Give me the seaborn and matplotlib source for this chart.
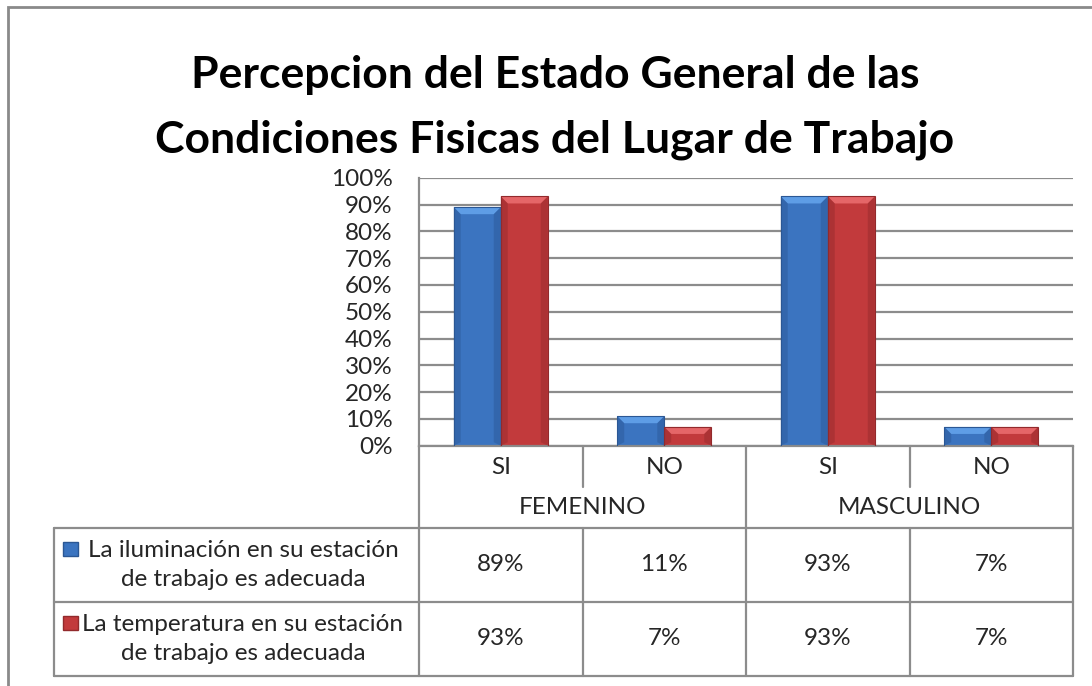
import matplotlib
matplotlib.use("Agg")
import matplotlib.pyplot as plt
import matplotlib.transforms as mtransforms
from matplotlib.patches import Polygon, Rectangle
from matplotlib.lines import Line2D
import pandas as pd
import seaborn as sns

# Data
generos = ["FEMENINO", "MASCULINO"]
respuestas = ["SI", "NO"]
series = ["La iluminación en su estación\nde trabajo es adecuada",
          "La temperatura en su estación\nde trabajo es adecuada"]
iluminacion = [0.89, 0.11, 0.93, 0.07]
temperatura = [0.93, 0.07, 0.93, 0.07]

colores = ["#3b74c0", "#c23a3c"]
claros = ["#5e9de6", "#e56668"]
oscuros = ["#2b5794", "#922a2c"]

sns.set_theme(style="white")
plt.rcParams["font.family"] = ["Lato", "DejaVu Sans"]

cats = [f"{g}-{r}" for g in generos for r in respuestas]
df = pd.DataFrame({
    "cat": cats * 2,
    "serie": [series[0]] * 4 + [series[1]] * 4,
    "valor": iluminacion + temperatura,
})

W, H = 1092, 686
fx = lambda px: px / W
fy = lambda py: 1 - py / H
fs = 17.5

fig = plt.figure(figsize=(W / 100, H / 100), dpi=100)
fig.patch.set_facecolor("white")

# outer chart border
fig.add_artist(Rectangle((fx(8), fy(700)), 1.2, fy(7) - fy(700), transform=fig.transFigure,
                         fill=False, edgecolor="#8a8a8a", lw=2))

ax_l, ax_r, ax_t, ax_b = 419, 1073, 177.7, 445.7
ax = fig.add_axes([fx(ax_l), fy(ax_b), (ax_r - ax_l) / W, (ax_b - ax_t) / H])

sns.barplot(data=df, x="cat", y="valor", hue="serie", order=cats, hue_order=series,
            palette=colores, saturation=1, width=0.575, legend=False, ax=ax,
            edgecolor="none", linewidth=0)

ax.set_xlim(-0.5, 3.5)
ax.set_ylim(0, 1)
ax.set_yticks([i / 10 for i in range(11)])
ax.set_yticklabels([f"{i * 10}%" for i in range(11)], fontsize=fs)
ax.tick_params(axis="y", length=0, pad=19)
ax.tick_params(axis="x", length=0, labelbottom=False)
ax.set_xlabel("")
ax.set_ylabel("")
ax.yaxis.grid(True, color="#8c8c8c", lw=1.6)
ax.set_axisbelow(True)
for s in ["top", "right"]:
    ax.spines[s].set_visible(False)
for s in ["left", "bottom"]:
    ax.spines[s].set_color("#8c8c8c")
    ax.spines[s].set_linewidth(1.6)

# bevel look on each bar
dx = 7 / ((ax_r - ax_l) / 4)
dy = 7 / (ax_b - ax_t)
for i, bar in enumerate(ax.patches[:8]):
    k = 0 if i < 4 else 1
    x0, w, h = bar.get_x(), bar.get_width(), bar.get_height()
    x1 = x0 + w
    ax.add_patch(Polygon([(x0, h), (x1, h), (x1 - dx, h - dy), (x0 + dx, h - dy)],
                         closed=True, color=claros[k], lw=0, zorder=3))
    ax.add_patch(Polygon([(x0, 0), (x0, h), (x0 + dx, h - dy), (x0 + dx, dy * 0.5)],
                         closed=True, color=oscuros[k], alpha=0.45, lw=0, zorder=3))
    ax.add_patch(Polygon([(x1, 0), (x1, h), (x1 - dx, h - dy), (x1 - dx, dy * 0.5)],
                         closed=True, color=oscuros[k], alpha=0.45, lw=0, zorder=3))
    ax.add_patch(Rectangle((x0, 0), w, h, fill=False, edgecolor=oscuros[k], lw=0.8, zorder=4))

# title
fig.text(fx(555), fy(75), "Percepcion del Estado General de las", ha="center", va="center",
         fontsize=32, fontweight="bold", color="black")
fig.text(fx(555), fy(140), "Condiciones Fisicas del Lugar de Trabajo", ha="center", va="center",
         fontsize=32, fontweight="bold", color="black")

# data table
gc = "#8c8c8c"
def linea(x0, y0, x1, y1):
    fig.add_artist(Line2D([fx(x0), fx(x1)], [fy(y0), fy(y1)], transform=fig.transFigure,
                          color=gc, lw=1.6))

mid = (ax_r - ax_l) / 4
cols = [ax_l + mid * j for j in range(5)]
r_mid, r_head, r_1, r_2 = 487, 527.7, 601.7, 676
linea(ax_l, ax_b, ax_l, r_2)
linea(ax_r, ax_b, ax_r, r_2)
linea(cols[2], ax_b, cols[2], r_2)
for c in (cols[1], cols[3]):
    linea(c, ax_b, c, r_mid)
    linea(c, r_head, c, r_2)
for yy in (r_head, r_1, r_2):
    linea(54, yy, ax_r, yy)
linea(54, r_head, 54, r_2)

tr = mtransforms.blended_transform_factory(ax.transData, fig.transFigure)
for i, c in enumerate(cats):
    ax.text(i, fy((ax_b + r_mid) / 2 + 1), c.split("-")[1], transform=tr,
            ha="center", va="center", fontsize=fs)
for j, g in enumerate(generos):
    ax.text(2 * j + 0.5, fy((r_mid + r_head) / 2), g, transform=tr,
            ha="center", va="center", fontsize=fs)

filas = [(r_head, r_1), (r_1, r_2)]
for k, (vals, lab) in enumerate(zip([iluminacion, temperatura], series)):
    y0, y1 = filas[k]
    yc = (y0 + y1) / 2
    for i, v in enumerate(vals):
        ax.text(i, fy(yc), f"{v:.0%}", transform=tr, ha="center", va="center", fontsize=fs)
    fig.text(fx(243), fy(yc), lab, ha="center", va="center", multialignment="center",
             fontsize=fs, linespacing=1.45)
    fig.add_artist(Rectangle((fx(63), fy(yc - 9)), 15 / W, 14 / H, transform=fig.transFigure,
                             facecolor=colores[k], edgecolor=oscuros[k], lw=1))

fig.savefig("out.png", dpi=100)
